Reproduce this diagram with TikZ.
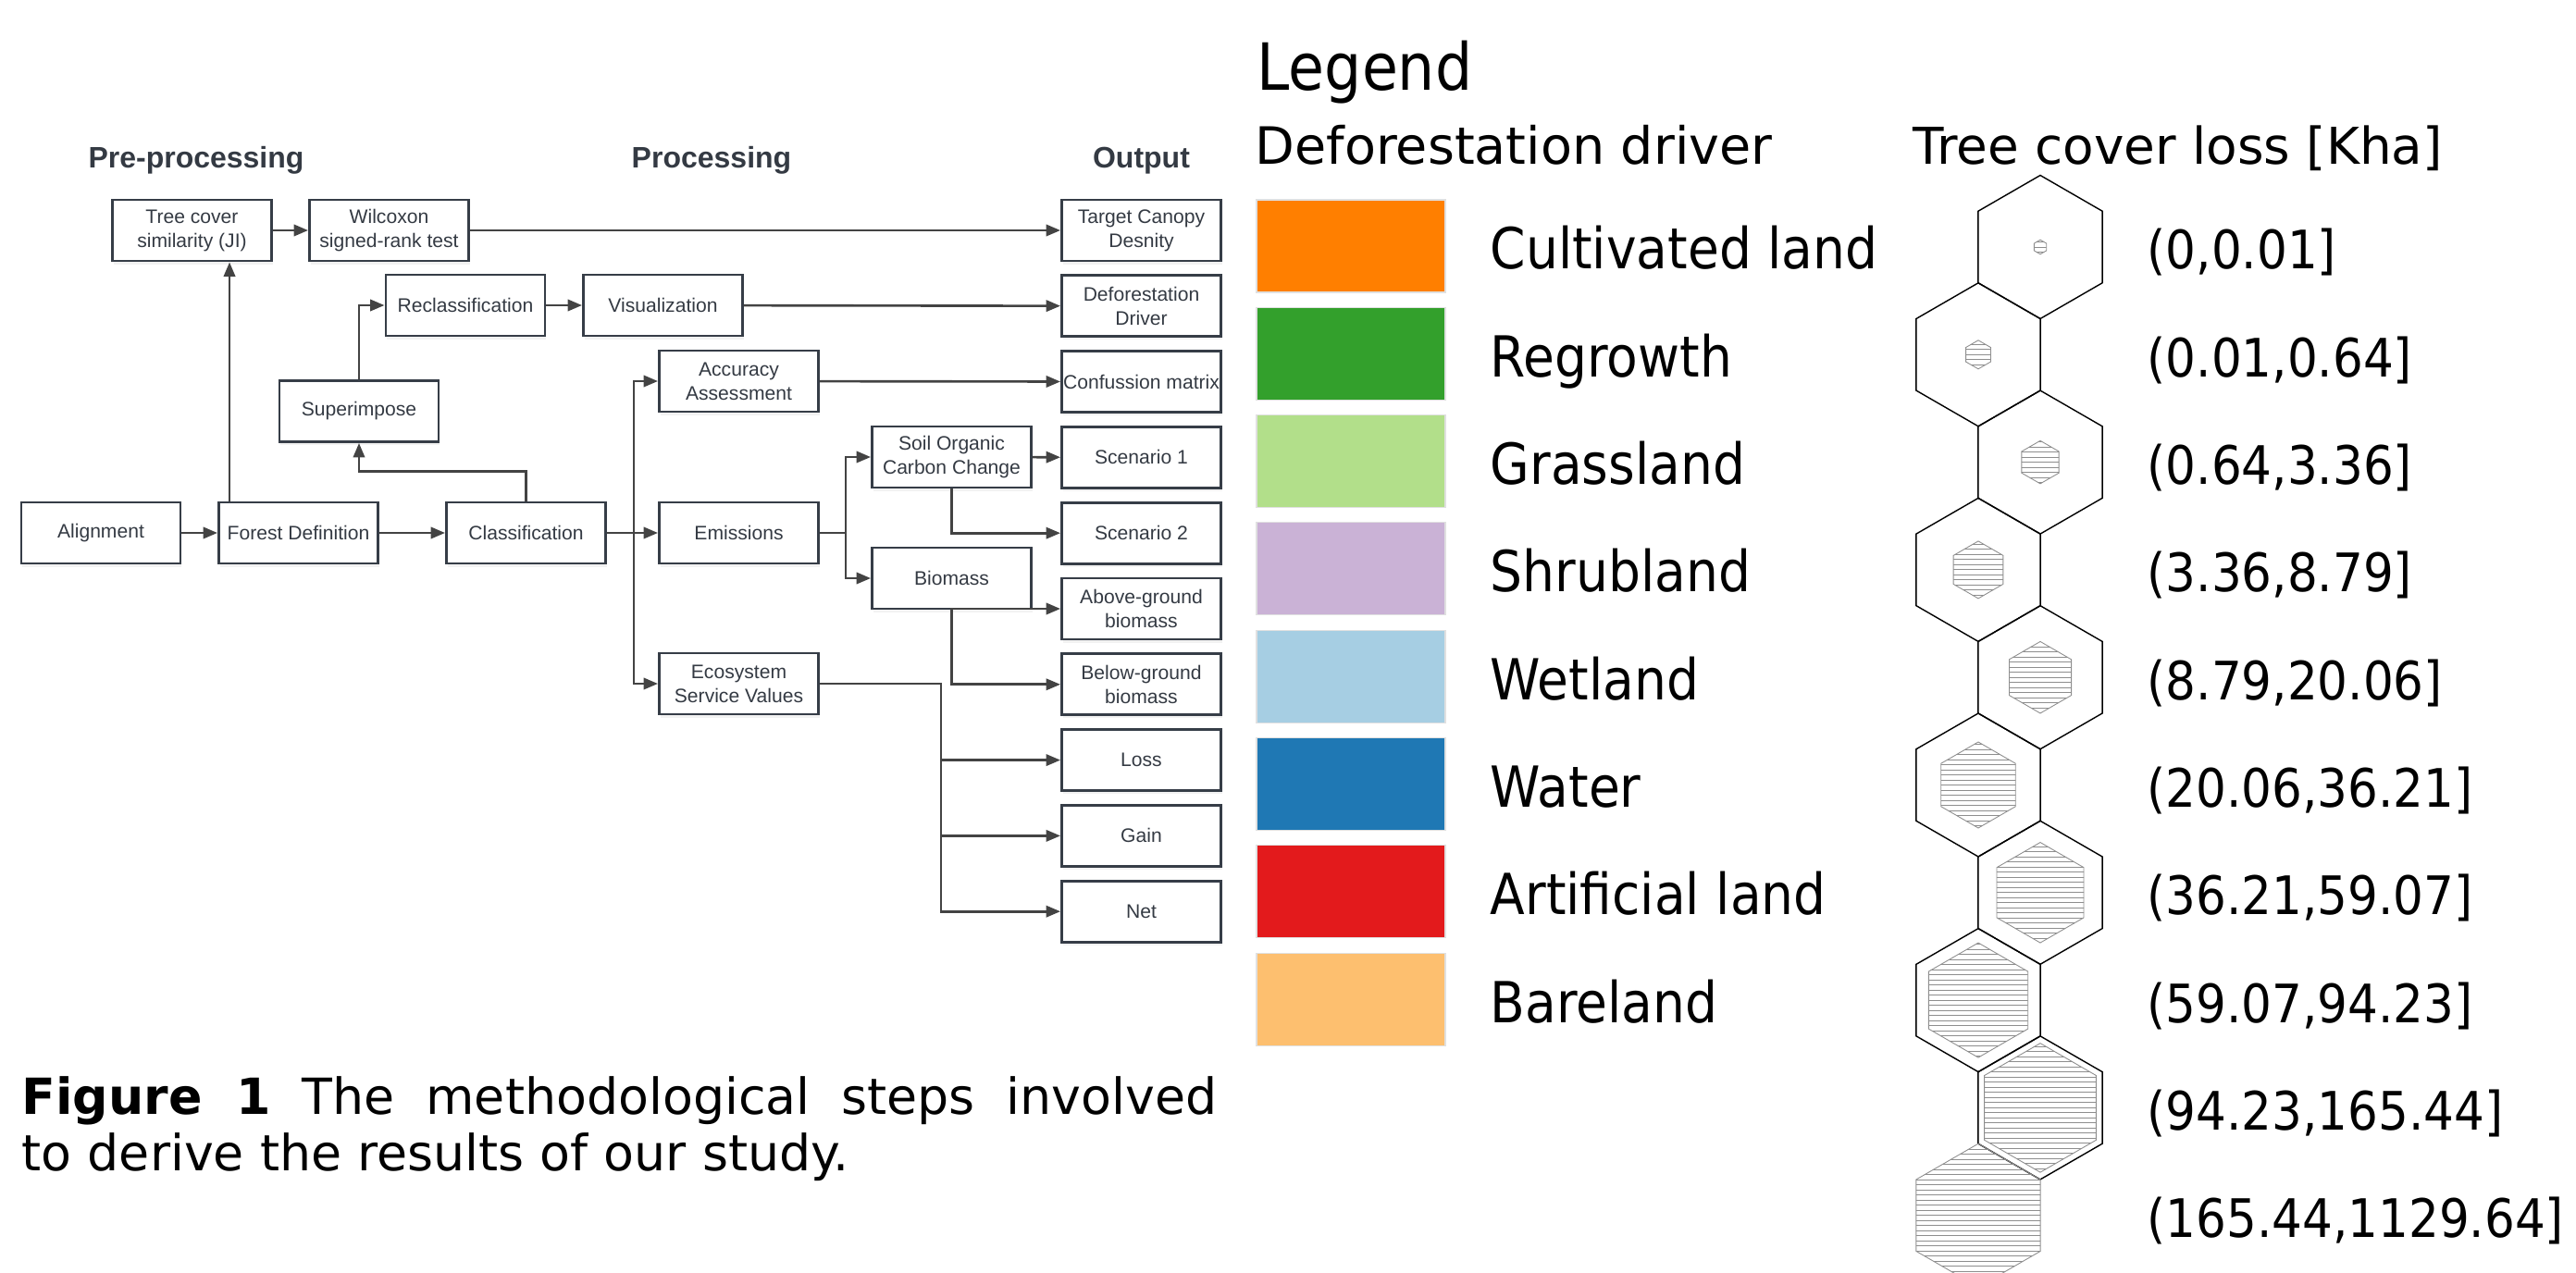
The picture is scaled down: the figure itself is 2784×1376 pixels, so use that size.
\documentclass[tikz,border=0pt]{standalone}
\usepackage{fontspec}
\setmainfont{Liberation Sans}
\newfontfamily\capfont{DejaVu Sans}
\newfontfamily\legfont[FakeStretch=0.9]{DejaVu Sans}
\usetikzlibrary{arrows.meta,calc,shadows}

\definecolor{boxline}{HTML}{363D47}
\definecolor{boxtext}{HTML}{343A43}
\definecolor{flowcol}{HTML}{434343}
\definecolor{hatchcol}{HTML}{8E8E8E}
\definecolor{cultiv}{HTML}{FF7F00}
\definecolor{regrow}{HTML}{33A02C}
\definecolor{grass}{HTML}{B2DF8A}
\definecolor{shrub}{HTML}{CAB2D6}
\definecolor{wet}{HTML}{A6CEE3}
\definecolor{water}{HTML}{1F78B4}
\definecolor{artif}{HTML}{E31A1C}
\definecolor{bare}{HTML}{FDBF6F}

\begin{document}
\begin{tikzpicture}[x=0.01cm,y=-0.01cm,
	stepbox/.style={draw=boxline,line width=0.8pt,fill=white,minimum width=1.72cm,minimum height=0.66cm,
		inner xsep=0pt,inner ysep=1pt,align=center,text=boxtext,font=\fontsize{6}{7.4}\selectfont,
		drop shadow={opacity=0.1,shadow xshift=0.3pt,shadow yshift=-1pt}},
	flow/.style={draw=flowcol,line width=0.75pt,-{Triangle[length=4.4pt,width=3.5pt]}},
	phase/.style={anchor=base,inner sep=0pt,text=boxtext,font=\fontsize{9.1}{11}\selectfont\bfseries},
	legtext/.style={anchor=base west,inner sep=0pt},
	swatch/.style={draw=black!12,line width=0.3pt},
	hexline/.style={draw=black,line width=0.4pt},
	hatchline/.style={draw=hatchcol,line width=0.25pt}]
	\useasboundingbox (0,0) rectangle (2784,1376);

	% phases
	\node[phase] (tpre) at (212,182) {Pre-processing};
	\node[phase] (tproc) at (769,182) {Processing};
	\node[phase] (tout) at (1233.5,182) {Output};

	% steps
	\node[stepbox] (align) at (109,576) {Alignment};
	\node[stepbox] (fordef) at (322.5,576) {Forest Definition};
	\node[stepbox] (classif) at (568.5,576) {Classification};
	\node[stepbox] (treecov) at (207.5,249) {Tree cover\\similarity (JI)};
	\node[stepbox] (wilcox) at (420.5,249) {Wilcoxon\\signed-rank test};
	\node[stepbox] (reclass) at (503,330) {Reclassification};
	\node[stepbox] (visual) at (716.5,330) {Visualization};
	\node[stepbox] (superimp) at (388,444.5) {Superimpose};
	\node[stepbox] (accu) at (798.5,412) {Accuracy\\Assessment};
	\node[stepbox] (emis) at (798.5,576) {Emissions};
	\node[stepbox] (ecosys) at (798.5,739) {Ecosystem\\Service Values};
	\node[stepbox] (soc) at (1028.5,494) {Soil Organic\\Carbon Change};
	\node[stepbox] (biom) at (1028.5,625) {Biomass};
	\foreach \nm/\txt [count=\i from 0] in {tcd/{Target Canopy\\Desnity},ddrv/{Deforestation\\Driver},
		conf/Confussion matrix,scen1/Scenario 1,scen2/Scenario 2,agb/{Above-ground\\biomass},
		bgb/{Below-ground\\biomass},loss/Loss,gain/Gain,net/Net}
		\node[stepbox] (\nm) at (1233.5,249+81.8*\i) {\txt};

	% links
	\coordinate (fdup) at ($(fordef.north west)+(13,0)$);
	\coordinate (bus1) at ($(classif.east)+(29,0)$);
	\coordinate (bus2) at ($(emis.east)+(28,0)$);
	\coordinate (bus3) at ($(ecosys.east)+(131,0)$);
	\draw[flow] (align) -- (fordef);
	\draw[flow] (fordef) -- (classif);
	\draw[flow] (fdup) -- (fdup |- treecov.south);
	\draw[flow] (treecov) -- (wilcox);
	\draw[flow] (wilcox) -- (tcd);
	\draw[flow] (classif.north) -- ++(0,-32) -| (superimp.south);
	\draw[flow] (superimp.north) |- (reclass.west);
	\draw[flow] (reclass) -- (visual);
	\draw[flow] (visual) -- (ddrv);
	\draw[flow] (classif) -- (emis);
	\draw[flow] (bus1) |- (accu.west);
	\draw[flow] (bus1) |- (ecosys.west);
	\draw[flow] (accu) -- (conf);
	\draw[flow] (emis.east) -- (bus2) |- (soc.west);
	\draw[flow] (bus2) |- (biom.west);
	\draw[flow] (soc) -- (scen1);
	\draw[flow] (soc.south) |- (scen2.west);
	\draw[flow] (biom.south) |- (agb.west);
	\draw[flow] (biom.south) |- (bgb.west);
	\draw[flow] (ecosys.east) -- (bus3) |- (loss.west);
	\draw[flow] (bus3) |- (gain.west);
	\draw[flow] (bus3) |- (net.west);

	% caption
	\node[anchor=base west,inner sep=0pt] (caption) at (23,1204) {\parbox[t]{12.91cm}{\capfont\fontsize{15.3}{17.6}\selectfont
		\textbf{Figure 1} The methodological steps involved\linebreak to derive the results of our study.}};

	% legend
	\node[legtext,font=\legfont\fontsize{20}{24}\selectfont] (legtitle) at (1358,98) {Legend};
	\node[legtext,font=\capfont\fontsize{15.8}{19}\selectfont] (drvhead) at (1356,178) {Deforestation driver};
	\node[legtext,font=\capfont\fontsize{15.6}{19}\selectfont] (losshead) at (2067,178) {Tree cover loss [Kha]};
	\foreach \col/\txt [count=\i from 0] in {cultiv/Cultivated land,regrow/Regrowth,grass/Grassland,
		shrub/Shrubland,wet/Wetland,water/Water,artif/Artificial land,bare/Bareland}{
		\draw[swatch,fill=\col] (1358,216+116.3*\i) rectangle ++(204,100);
		\node[legtext,font=\legfont\fontsize{17.4}{20}\selectfont] (drv\i) at (1610,291+116.3*\i) {\txt};
	}
	\foreach \txt [count=\i from 0] in {{(0,0.01]},{(0.01,0.64]},{(0.64,3.36]},{(3.36,8.79]},{(8.79,20.06]},
		{(20.06,36.21]},{(36.21,59.07]},{(59.07,94.23]},{(94.23,165.44]},{(165.44,1129.64]}}
		\node[legtext,font=\legfont\fontsize{16.3}{19}\selectfont] (tcl\i) at (2320,291+116.3*\i) {\txt};
	\foreach \i in {1,...,10}{
		\pgfmathsetmacro{\hx}{mod(\i,2)==1 ? 2205 : 2138}
		\pgfmathsetmacro{\hy}{267+116.3*(\i-1)}
		\pgfmathsetmacro{\hr}{7.75*\i}
		\begin{scope}
			\clip (\hx,\hy) +(30:\hr) \foreach \a in {90,150,210,270,330}{ -- +(\a:\hr)} -- cycle;
			\foreach \k in {-14,...,14}
				\draw[hatchline] (\hx-80,\hy+5.5*\k) -- (\hx+80,\hy+5.5*\k);
		\end{scope}
		\draw[hatchline] (\hx,\hy) +(30:\hr) \foreach \a in {90,150,210,270,330}{ -- +(\a:\hr)} -- cycle;
		\ifnum\i<10
			\draw[hexline] (\hx,\hy) +(30:77.5) \foreach \a in {90,150,210,270,330}{ -- +(\a:77.5)} -- cycle;
		\fi
	}
\end{tikzpicture}
\end{document}
